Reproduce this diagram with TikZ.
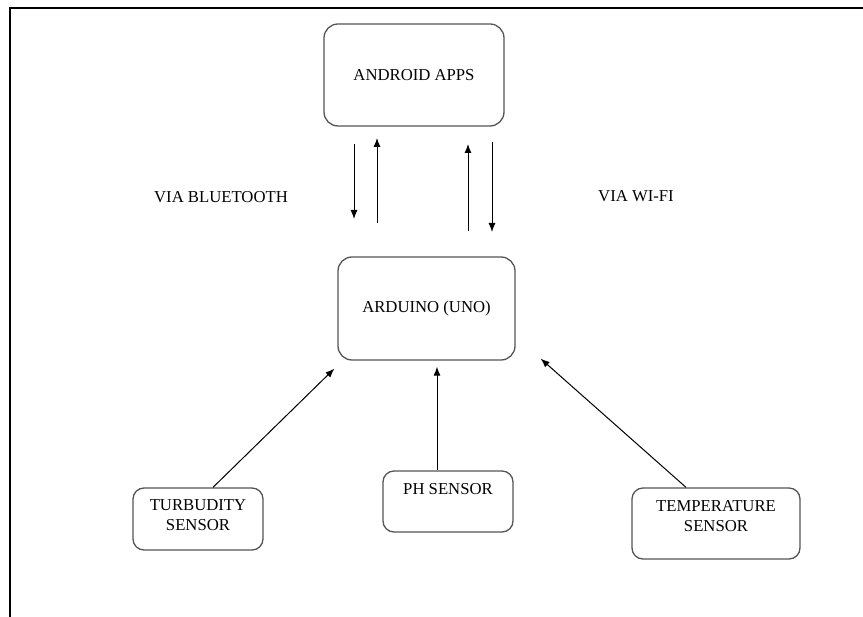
\documentclass[tikz,border=0pt]{standalone}
\usepackage{fontspec}
\setmainfont{Liberation Serif}
\usetikzlibrary{arrows.meta, positioning}
\definecolor{bgray}{HTML}{555555}
\tikzstyle{unit} = [rectangle, rounded corners=14pt, draw=bgray, line width=1.3pt, text centered]
\tikzstyle{sensor} = [rectangle, rounded corners=11pt, draw=bgray, line width=1.3pt]
\tikzstyle{sname} = [anchor=north, align=center, inner sep=2pt, yshift=-10.5pt]
\tikzstyle{cable} = [line width=1pt, -{Latex[length=9pt, width=7pt]}]

\begin{document}
\begin{tikzpicture}[x=1pt, y=-1pt, font=\fontsize{16.7}{20}\selectfont]
  \useasboundingbox (0,0) rectangle (863,617);
  % page frame
  \draw[line width=2pt] (10,617) -- (10,8) -- (863,8);
  \node (android) [unit, minimum width=180pt, minimum height=102pt] at (414,75) {ANDROID APPS};
  \node (arduino) [unit, minimum width=177pt, minimum height=103pt] at (426.5,308.5) {ARDUINO (UNO)};
  \node (turb) [sensor, minimum width=130pt, minimum height=62pt, label={[sname]north:TURBUDITY\\SENSOR}] at (198,519) {};
  \node (ph) [sensor, minimum width=130pt, minimum height=61pt, label={[sname]north:PH SENSOR}] at (448,501.5) {};
  \node (temp) [sensor, minimum width=168pt, minimum height=71pt, label={[sname]north:TEMPERATURE\\SENSOR}] at (716,523.5) {};
  \node (bt) [anchor=base] at (221,203) {VIA BLUETOOTH};
  \node (wifi) [anchor=base] at (636,202) {VIA WI-FI};
  % links to the phone
  \coordinate (btdown1) at (354,144);
  \coordinate (btdown2) at (354,219);
  \coordinate (btup1) at (377,223);
  \coordinate (btup2) at (377,138);
  \coordinate (wfup1) at (468,231);
  \coordinate (wfup2) at (468,144);
  \coordinate (wfdown1) at (492,142);
  \coordinate (wfdown2) at (492,232);
  \draw [cable] (btdown1) -- (btdown2);
  \draw [cable] (btup1) -- (btup2);
  \draw [cable] (wfup1) -- (wfup2);
  \draw [cable] (wfdown1) -- (wfdown2);
  % sensors
  \draw [cable] ([xshift=15pt]turb.north) -- ([xshift=-3pt, yshift=-8pt]arduino.south west);
  \draw [cable] ([xshift=-11pt]ph.north) -- ([xshift=10.5pt, yshift=-6pt]arduino.south);
  \draw [cable] ([xshift=-30pt]temp.north) -- ([xshift=25pt, yshift=2pt]arduino.south east);
\end{tikzpicture}
\end{document}
